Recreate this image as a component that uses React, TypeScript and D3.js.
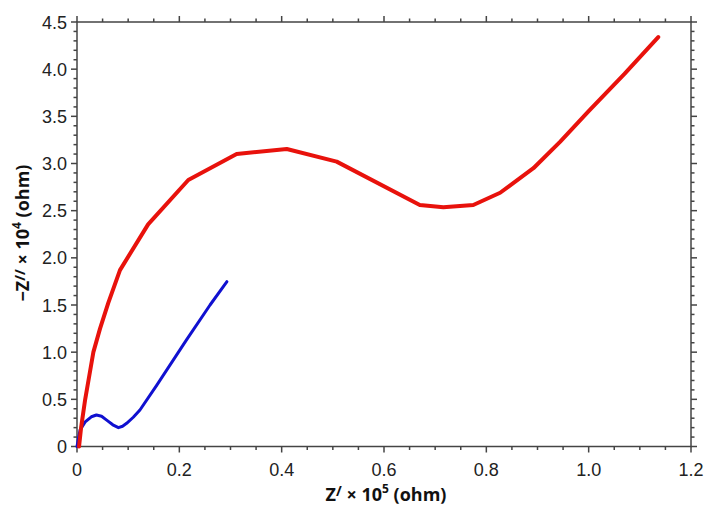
import React from "react";
import * as d3 from "d3";

const redX = [0.004, 0.008, 0.016, 0.024, 0.032, 0.045, 0.061, 0.084, 0.139, 0.2175, 0.312, 0.41, 0.5075, 0.67, 0.716, 0.7745, 0.827, 0.892, 0.944, 1.0, 1.07, 1.136];
const redY = [0, 0.2, 0.5, 0.75, 1.0, 1.25, 1.52, 1.87, 2.355, 2.825, 3.1, 3.154, 3.02, 2.56, 2.536, 2.56, 2.69, 2.95, 3.23, 3.555, 3.95, 4.34];

const blueX = [0, 0.006, 0.016, 0.028, 0.038, 0.048, 0.058, 0.07, 0.081, 0.089, 0.097, 0.11, 0.123, 0.156, 0.214, 0.26, 0.293];
const blueY = [0, 0.175, 0.26, 0.315, 0.334, 0.32, 0.28, 0.23, 0.2, 0.215, 0.246, 0.31, 0.387, 0.65, 1.13, 1.5, 1.747];

const xTicks = [0, 0.2, 0.4, 0.6, 0.8, 1.0, 1.2];
const xTickLabels = ["0", "0.2", "0.4", "0.6", "0.8", "1.0", "1.2"];
const yTicks = [0, 0.5, 1.0, 1.5, 2.0, 2.5, 3.0, 3.5, 4.0, 4.5];
const yTickLabels = ["0", "0.5", "1.0", "1.5", "2.0", "2.5", "3.0", "3.5", "4.0", "4.5"];

const W = 704, H = 505;
const L = 77, R = 691, T = 22, B = 446.5;

export default function App() {
  const x = d3.scaleLinear().domain([0, 1.2]).range([L, R]);
  const y = d3.scaleLinear().domain([0, 4.5]).range([B, T]);
  const xMinor = d3.range(0, 1.2001, 0.05);
  const yMinor = d3.range(0, 4.5001, 0.1);
  const line = d3.line<[number, number]>().x(d => x(d[0])).y(d => y(d[1]));
  const red: [number, number][] = redX.map((v, i) => [v, redY[i]]);
  const blue: [number, number][] = blueX.map((v, i) => [v, blueY[i]]);
  const axisColor = "#444";
  const isMajorX = (v: number) => xTicks.some(t => Math.abs(t - v) < 1e-6);
  const isMajorY = (v: number) => yTicks.some(t => Math.abs(t - v) < 1e-6);
  return (
    <svg width={W} height={H} style={{ position: "absolute", left: 0, top: 0, background: "#fff" }}>
      <rect x={0} y={0} width={W} height={H} fill="#fff" />
      <g stroke={axisColor} strokeWidth={1.5}>
        <rect x={L} y={T} width={R - L} height={B - T} fill="none" />
        {xMinor.map((v, i) => {
          const len = isMajorX(v) ? 6 : 3.5;
          return (
            <g key={"xm" + i}>
              <line x1={x(v)} x2={x(v)} y1={B} y2={B + len} />
              <line x1={x(v)} x2={x(v)} y1={T} y2={T - len} />
            </g>
          );
        })}
        {yMinor.map((v, i) => {
          const len = isMajorY(v) ? 6 : 3.5;
          return (
            <g key={"ym" + i}>
              <line x1={L} x2={L - len} y1={y(v)} y2={y(v)} />
              <line x1={R} x2={R + len} y1={y(v)} y2={y(v)} />
            </g>
          );
        })}
      </g>
      <g fontFamily="Liberation Sans, Arial, sans-serif" fontSize={18} fill="#222">
        {xTicks.map((v, i) => (
          <text key={"xl" + i} x={x(v)} y={476} textAnchor="middle">{xTickLabels[i]}</text>
        ))}
        {yTicks.map((v, i) => (
          <text key={"yl" + i} x={67} y={y(v) + 6.5} textAnchor="end">{yTickLabels[i]}</text>
        ))}
      </g>
      <path d={line(blue) || ""} fill="none" stroke="#1010d0" strokeWidth={3} strokeLinejoin="round" strokeLinecap="round" />
      <path d={line(red) || ""} fill="none" stroke="#e8120c" strokeWidth={4} strokeLinejoin="round" strokeLinecap="round" />
      <g fontFamily="Open Sans, Liberation Sans, sans-serif" fontWeight="bold" fontSize={18} fill="#111">
        <text x={386} y={501} textAnchor="middle">
          Z<tspan fontSize={14} dy={-5}>/</tspan><tspan dy={5}> × 10</tspan><tspan fontSize={12} dy={-8}>5</tspan><tspan dy={8}> (ohm)</tspan>
        </text>
        <text transform="translate(29,233) rotate(-90)" textAnchor="middle">
          −Z<tspan fontSize={14} dy={-4}>//</tspan><tspan dy={4}> × 10</tspan><tspan fontSize={12} dy={-8}>4</tspan><tspan dy={8}> (ohm)</tspan>
        </text>
      </g>
    </svg>
  );
}
